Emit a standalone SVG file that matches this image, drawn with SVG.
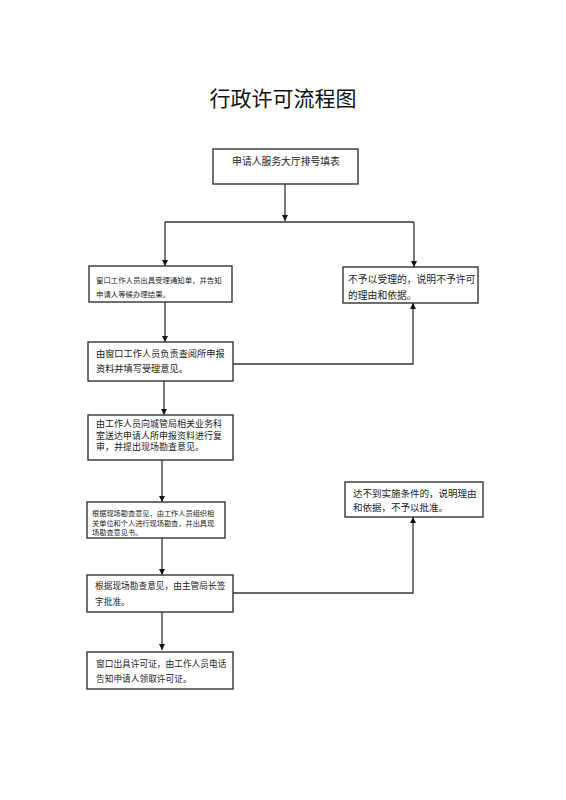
<svg xmlns="http://www.w3.org/2000/svg" width="566" height="800" viewBox="0 0 566 800">
<style>
.bg{fill:#ffffff}
.box{fill:#ffffff;stroke:#333333;stroke-width:1.4}
.ln{fill:none;stroke:#333333;stroke-width:1.3}
.t{font-family:"Noto Sans CJK SC","Noto Sans",sans-serif;fill:#222222}
.title{font-family:"Noto Sans CJK SC","Noto Sans",sans-serif;font-size:21px;fill:#111111}
</style>
<defs>
<marker id="ah" viewBox="0 0 10 10" refX="10" refY="5" markerWidth="6" markerHeight="6" orient="auto" markerUnits="userSpaceOnUse">
<path d="M0,0 L10,5 L0,10 z" fill="#111111"/>
</marker>
<clipPath id="c5"><rect x="87" y="502" width="138" height="36"/></clipPath>
</defs>
<rect class="bg" x="0" y="0" width="566" height="800"/>
<text class="title" x="283" y="106" text-anchor="middle">行政许可流程图</text>

<g id="connectors">
<path class="ln" d="M285,184 V221" marker-end="url(#ah)"/>
<path class="ln" d="M165,222 H414"/>
<path class="ln" d="M165,222 V266" marker-end="url(#ah)"/>
<path class="ln" d="M414,222 V267" marker-end="url(#ah)"/>
<path class="ln" d="M165,302 V342" marker-end="url(#ah)"/>
<path class="ln" d="M233,364 H413 V303" marker-end="url(#ah)"/>
<path class="ln" d="M164,381 V415" marker-end="url(#ah)"/>
<path d="M150.5,378 L153.5,372 L156.5,378 z" fill="#111111"/>
<path class="ln" d="M162,460 V502" marker-end="url(#ah)"/>
<path class="ln" d="M162,538 V575" marker-end="url(#ah)"/>
<path class="ln" d="M233,593 H413 V517" marker-end="url(#ah)"/>
<path class="ln" d="M162,612 V650" marker-end="url(#ah)"/>
</g>

<g id="n1">
<rect class="box" x="213" y="149" width="145" height="35"/>
<text class="t" x="286" y="165" font-size="9.8" text-anchor="middle">申请人服务大厅排号填表</text>
</g>
<g id="n2">
<rect class="box" x="89" y="266" width="143" height="36"/>
<text class="t" x="96" y="283" font-size="7.4">窗口工作人员出具受理通知单，并告知</text>
<text class="t" x="96" y="297" font-size="7.4">申请人等候办理结果。</text>
</g>
<g id="n3">
<rect class="box" x="343" y="267" width="135" height="36"/>
<text class="t" x="348" y="283" font-size="9.8">不予以受理的，说明不予许可</text>
<text class="t" x="348" y="299" font-size="9.8">的理由和依据。</text>
</g>
<g id="n4">
<rect class="box" x="88" y="342" width="145" height="39"/>
<text class="t" x="96" y="357" font-size="9.2">由窗口工作人员负责查阅所申报</text>
<text class="t" x="96" y="372" font-size="9.2">资料并填写受理意见。</text>
</g>
<g id="n5">
<rect class="box" x="88" y="415" width="145" height="45"/>
<text class="t" x="96" y="427" font-size="9">由工作人员向城管局相关业务科</text>
<text class="t" x="96" y="438.5" font-size="9">室送达申请人所申报资料进行复</text>
<text class="t" x="96" y="450" font-size="9">审，并提出现场勘查意见。</text>
</g>
<g id="n6">
<rect x="87" y="502" width="138" height="36" fill="#ffffff"/>
<g clip-path="url(#c5)">
<text class="t" x="92" y="516" font-size="7.2">根据现场勘查意见，由工作人员组织相</text>
<text class="t" x="92" y="525.5" font-size="7.2">关单位和个人进行现场勘查，并出具现</text>
<text class="t" x="92" y="535" font-size="7.2">场勘查意见书。</text>
</g>
<rect x="87" y="502" width="138" height="36" fill="none" stroke="#333333" stroke-width="1.4"/>
</g>
<g id="n7">
<rect class="box" x="345" y="482" width="138" height="35"/>
<text class="t" x="353" y="497" font-size="9.5">达不到实施条件的，说明理由</text>
<text class="t" x="353" y="511" font-size="9.5">和依据，不予以批准。</text>
</g>
<g id="n8">
<rect class="box" x="87" y="575" width="146" height="37"/>
<text class="t" x="95" y="589" font-size="8.7">根据现场勘查意见，由主管局长签</text>
<text class="t" x="95" y="605" font-size="8.7">字批准。</text>
</g>
<g id="n9">
<rect class="box" x="87" y="652" width="146" height="37"/>
<text class="t" x="96" y="667" font-size="8.7">窗口出具许可证，由工作人员电话</text>
<text class="t" x="96" y="682" font-size="8.7">告知申请人领取许可证。</text>
</g>
</svg>
